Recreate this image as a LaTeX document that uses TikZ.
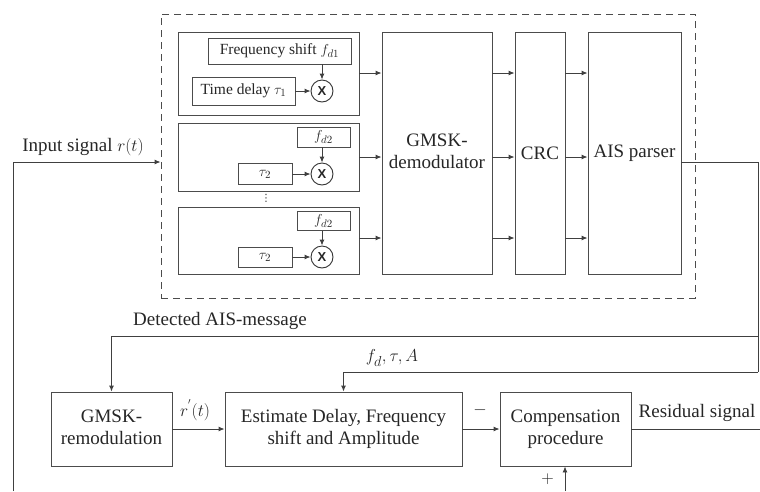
\documentclass[tikz,border=0pt]{standalone}
\usepackage{fontspec}
\setmainfont{Liberation Serif}
\newfontfamily\tms{Liberation Serif}
\newfontfamily\xsans{Liberation Sans}
\newfontfamily\dejavu{DejaVu Sans}
\usetikzlibrary{arrows.meta,calc}
\newcommand{\bigf}{\tms\fontsize{19}{22}\selectfont}
\newcommand{\smlf}{\tms\fontsize{15.5}{18}\selectfont}
\newcommand{\twol}[2]{{\bigf\begin{tabular}{@{}c@{}}#1\\#2\end{tabular}}}
\begin{document}
\begin{tikzpicture}[x=1pt,y=-1pt,
  every node/.style={text=black!85},
  blk/.style={draw=black!70, line width=0.9pt, inner sep=0pt, font=\bigf},
  sbox/.style={draw=black!70, line width=0.8pt, inner sep=0pt, font=\smlf},
  mult/.style={draw=black!80, line width=0.9pt, circle, minimum size=22pt, inner sep=0pt,
    font=\xsans\bfseries\fontsize{13}{13}\selectfont},
  grp/.style={draw=black!70, line width=0.9pt, dash pattern=on 7pt off 5pt, inner sep=0pt},
  lbl/.style={inner sep=0pt, font=\bigf},
  ln/.style={draw=black!75, line width=0.9pt},
  arr/.style={ln, -{Latex[length=6pt,width=5pt]}}
]
\useasboundingbox (0,0) rectangle (760,491);

% dashed group
\node[grp, minimum width=534pt, minimum height=284pt] (grp) at (428,156) {};

% branch boxes
\node[blk, minimum width=181pt, minimum height=83pt] (b1) at (268.5,73.5) {};
\node[blk, minimum width=181pt, minimum height=68pt] (b2) at (268.5,157) {};
\node[blk, minimum width=181pt, minimum height=67pt] (b3) at (268.5,240.5) {};

\node[sbox, minimum width=143pt, minimum height=26pt] (fs1) at (279.5,51) {\smlf Frequency shift $f_{d1}$};
\node[sbox, minimum width=103pt, minimum height=28pt] (td1) at (243.5,91) {\smlf Time delay $\tau_1$};
\node[mult] (m1) at (322,91) {X};

\node[sbox, minimum width=53pt, minimum height=20pt] (fs2) at (323.5,137) {\smlf $f_{d2}$};
\node[sbox, minimum width=54pt, minimum height=21pt] (td2) at (265,174) {\smlf $\tau_2$};
\node[mult] (m2) at (322,174) {X};

\node[sbox, minimum width=53pt, minimum height=19pt] (fs3) at (323.5,221) {\smlf $f_{d2}$};
\node[sbox, minimum width=54pt, minimum height=20pt] (td3) at (265,257) {\smlf $\tau_2$};
\node[mult] (m3) at (322,257) {X};

\node[inner sep=0pt, font=\dejavu\fontsize{10}{10}\selectfont] (dots) at (266,198) {⋮};

\draw[arr] (td1.east) -- (m1.west);
\draw[arr] (fs1.south -| m1) -- (m1.north);
\draw[arr] (td2.east) -- (m2.west);
\draw[arr] (fs2.south -| m2) -- (m2.north);
\draw[arr] (td3.east) -- (m3.west);
\draw[arr] (fs3.south -| m3) -- (m3.north);

% main blocks
\node[blk, minimum width=110pt, minimum height=242pt] (dem) at (437,153) {\twol{GMSK-}{demodulator}};
\node[blk, minimum width=50pt, minimum height=242pt] (crc) at (540,153) {\bigf CRC};
\node[blk, minimum width=93pt, minimum height=242pt] (ais) at (634.5,153) {\bigf AIS parser};

\draw[arr] (b1.east |- 0,73) -- (dem.west |- 0,73);
\draw[arr] (b2.east |- 0,157) -- (dem.west |- 0,157);
\draw[arr] (b3.east |- 0,238) -- (dem.west |- 0,238);
\draw[arr] (dem.east |- 0,73) -- (crc.west |- 0,73);
\draw[arr] (dem.east |- 0,157) -- (crc.west |- 0,157);
\draw[arr] (dem.east |- 0,238) -- (crc.west |- 0,238);
\draw[arr] (crc.east |- 0,73) -- (ais.west |- 0,73);
\draw[arr] (crc.east |- 0,157) -- (ais.west |- 0,157);
\draw[arr] (crc.east |- 0,238) -- (ais.west |- 0,238);

% lower row
\node[blk, minimum width=121pt, minimum height=74pt] (remod) at (111.5,429) {\twol{GMSK-}{remodulation}};
\node[blk, minimum width=237pt, minimum height=74pt] (est) at (343.5,429) {\twol{Estimate Delay, Frequency}{shift and Amplitude}};
\node[blk, minimum width=131pt, minimum height=74pt] (comp) at (565.5,429) {\twol{Compensation}{procedure}};

% labels
\node[lbl] (lin) at (83,147) {Input signal $r(t)$};
\node[lbl] (ldet) at (220,321) {Detected AIS-message};
\node[lbl] (lpar) at (392,358) {$f_d, \tau, A$};
\node[lbl] (lr) at (195,410) {$r^{'}(t)$};
\node[lbl] (lminus) at (480,410) {$-$};
\node[lbl] (lplus) at (547.5,479) {$+$};
\node[lbl] (lres) at (697,413) {Residual signal};

% coordinates
\coordinate (inbot) at (13,491);
\coordinate (jtop) at (758,162);
\coordinate (jdet) at (758,336);
\coordinate (jpar) at (758,372);
\coordinate (resend) at (760,429);
\coordinate (plusbot) at (565,491);

% connectors
\draw[arr] (inbot) |- (grp.west |- 0,162);
\draw[ln] ($(ais.east)+(0,9)$) -- (jtop) -- (jpar);
\draw[arr] (jdet) -| (remod.north);
\draw[arr] (jpar) -| (est.north);
\draw[arr] (remod.east) -- (est.west);
\draw[arr] (est.east) -- (comp.west);
\draw[ln] (comp.east) -- (resend);
\draw[arr] (plusbot) -- (comp.south -| plusbot);
\end{tikzpicture}
\end{document}
